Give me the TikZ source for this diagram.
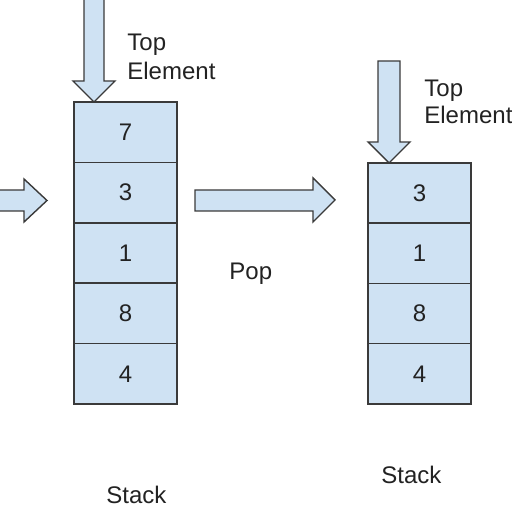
\documentclass[tikz,border=0pt]{standalone}
\usepackage{fontspec}
\setmainfont{Liberation Sans}
\definecolor{cellfill}{HTML}{CFE2F3}
\definecolor{edge}{HTML}{3A3A3A}
\definecolor{ink}{HTML}{222222}
\begin{document}
\begin{tikzpicture}[x=0.5pt,y=-0.5pt,
  cell/.style={draw=edge,fill=cellfill,line width=0.75pt,minimum width=51.5pt,minimum height=30.2pt,inner sep=0pt,outer sep=0pt,text=ink,font=\fontsize{12pt}{14pt}\selectfont},
  blockarrow/.style={draw=edge,fill=cellfill,line width=0.7pt,line join=miter},
  lbl/.style={anchor=base west,inner sep=0pt,text=ink,font=\fontsize{12pt}{14pt}\selectfont}]
\useasboundingbox (0,0) rectangle (512,512);
% left stack
\node[cell] (a1) at (125.5,132.2) {7};
\node[cell] (a2) at (125.5,192.6) {3};
\node[cell] (a3) at (125.5,253.0) {1};
\node[cell] (a4) at (125.5,313.4) {8};
\node[cell] (a5) at (125.5,373.8) {4};
% right stack
\node[cell] (b1) at (419.5,193.1) {3};
\node[cell] (b2) at (419.5,253.4) {1};
\node[cell] (b3) at (419.5,313.6) {8};
\node[cell] (b4) at (419.5,373.9) {4};
% down arrows
\draw[blockarrow] (84,-4) -- (104,-4) -- (104,81) -- (115,81) -- (94,102) -- (73,81) -- (84,81) -- cycle;
\draw[blockarrow] (378,61) -- (400,61) -- (400,142) -- (410,142) -- (389,163) -- (368,142) -- (378,142) -- cycle;
% horizontal arrows
\draw[blockarrow] (-4,190) -- (24,190) -- (24,179) -- (47,200.5) -- (24,222) -- (24,211) -- (-4,211) -- cycle;
\draw[blockarrow] (195,190) -- (313,190) -- (313,178) -- (335,200) -- (313,222) -- (313,211) -- (195,211) -- cycle;
% labels
\node[lbl] (t1) at (127,51) {Top};
\node[lbl] (t2) at (127,80) {Element};
\node[lbl] (t3) at (424,97) {Top};
\node[lbl] (t4) at (424,124) {Element};
\node[lbl] (pop) at (229,279) {Pop};
\node[lbl] (s1) at (106,503) {Stack};
\node[lbl] (s2) at (381,483) {Stack};
\end{tikzpicture}
\end{document}
